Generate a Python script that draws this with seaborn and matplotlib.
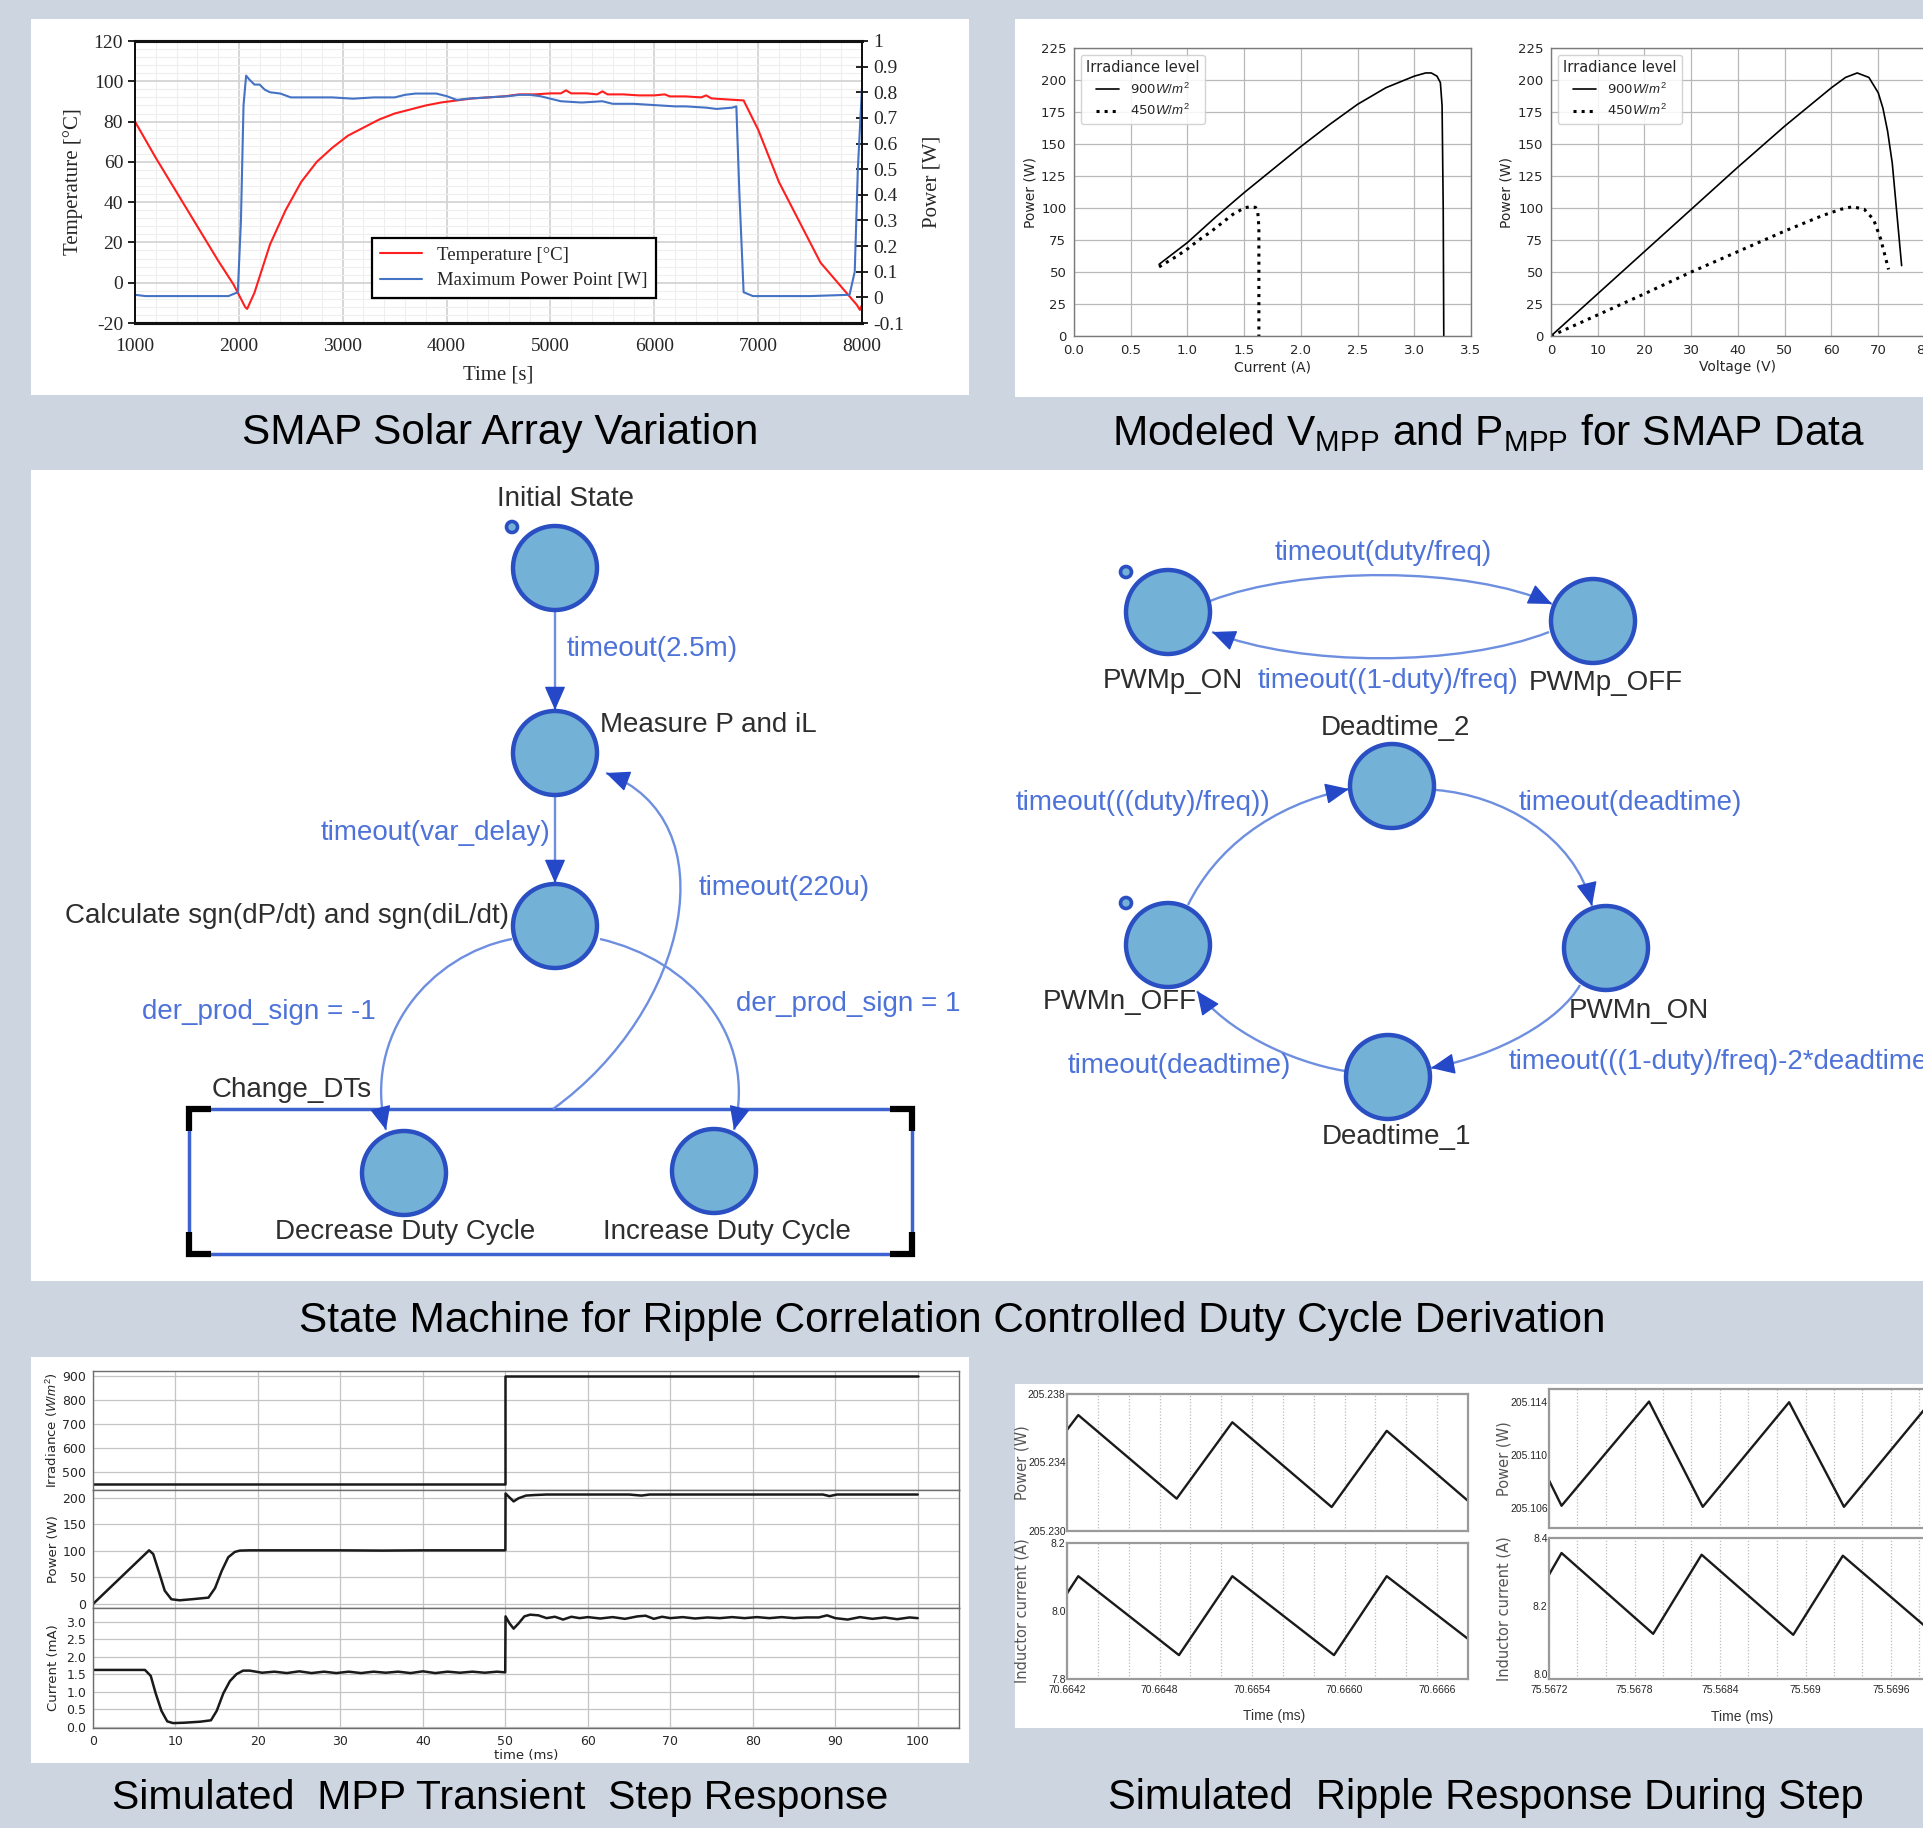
import numpy as np
import matplotlib.pyplot as plt
import seaborn as sns
from matplotlib.patches import Rectangle, Circle, PathPatch, FancyArrowPatch
from matplotlib.path import Path
from matplotlib.ticker import MultipleLocator, FuncFormatter

# ---------------- data ----------------
# SMAP solar array variation
temp_time = [1000, 1200, 1400, 1600, 1800, 1950, 2060, 2080, 2150, 2300,
             2450, 2600, 2750, 2900, 3050, 3200, 3350, 3500, 3650, 3800,
             3950, 4100, 4250, 4400, 4550, 4700, 4850, 5000, 5100, 5150,
             5200, 5350, 5450, 5500, 5550, 5700, 5850, 6000, 6100, 6150,
             6300, 6450, 6500, 6550, 6700, 6860, 7000, 7200, 7400, 7600,
             7800, 7950, 7980, 8000]
temp_c = [80, 62, 45, 28, 11, -1, -12, -13, -5, 19,
          36, 50, 60, 67, 73, 77, 81, 84, 86, 88,
          89.5, 90.5, 91.5, 92, 92.5, 93.5, 93.5, 94, 94, 95.5,
          94, 94, 93.5, 95, 93.5, 93.5, 93, 93, 93.5, 92.5,
          92.5, 92, 93, 91.5, 91, 90.5, 76, 50, 30, 10,
          -2, -11, -13.5, -11]
mpp_time = [1000, 1100, 1500, 1900, 1990, 2020, 2045, 2070, 2100, 2150,
            2200, 2250, 2300, 2400, 2500, 2700, 2900, 3100, 3300, 3500,
            3600, 3700, 3900, 4000, 4100, 4200, 4400, 4600, 4700, 4800,
            4900, 5000, 5100, 5300, 5500, 5600, 5800, 6000, 6200, 6300,
            6500, 6600, 6750, 6790, 6820, 6860, 6950, 7500, 7880, 7930,
            7960, 8000]
mpp_w = [0.01, 0.005, 0.005, 0.005, 0.02, 0.3, 0.75, 0.865, 0.85, 0.83,
         0.83, 0.81, 0.80, 0.795, 0.78, 0.78, 0.78, 0.775, 0.78, 0.78,
         0.79, 0.795, 0.795, 0.785, 0.77, 0.775, 0.78, 0.785, 0.79, 0.79,
         0.785, 0.775, 0.765, 0.76, 0.765, 0.755, 0.755, 0.75, 0.745, 0.745,
         0.74, 0.735, 0.74, 0.745, 0.4, 0.02, 0.005, 0.005, 0.01, 0.1,
         0.5, 0.82]

# modeled PV curves
i_900 = [0.75, 1.0, 1.25, 1.5, 1.75, 2.0, 2.25, 2.5, 2.75, 3.0, 3.1, 3.15, 3.2, 3.23, 3.245, 3.255, 3.26]
p_i_900 = [56, 73, 93, 112, 130, 148, 165, 181, 194, 203, 205.5, 205.5, 203, 198, 180, 100, 0]
i_450 = [0.75, 0.9, 1.0, 1.1, 1.2, 1.3, 1.4, 1.5, 1.55, 1.6, 1.62, 1.63, 1.63]
p_i_450 = [54, 62, 68, 75, 81, 88, 95, 100, 101, 100.5, 97, 85, 0]
v_900 = [0, 10, 20, 30, 40, 50, 60, 63, 65.5, 68, 70, 71, 72, 73, 74, 75]
p_v_900 = [0, 33, 66, 99, 132, 164, 194, 202, 205.5, 202, 190, 178, 160, 135, 95, 55]
v_450 = [0, 10, 20, 30, 40, 50, 58, 62, 64.5, 67, 69, 70.5, 71.5, 72.2]
p_v_450 = [0, 16.5, 33, 50, 66, 82, 94, 99, 101, 99, 91, 76, 62, 52]

# transient step response
irr_t = [0, 50, 50, 100]
irr_v = [450, 450, 900, 900]
pw_t = [0, 6.8, 7.3, 8.0, 8.7, 9.5, 10.5, 12, 14, 14.8, 15.6, 16.4, 17.2, 17.8, 19,
        25, 30, 35, 40, 45, 50, 50.02, 50.4, 51.0, 51.6, 52.5, 53.5, 55, 60, 65,
        66.5, 67.5, 70, 80, 88.5, 89.3, 90.2, 95, 100]
pw_v = [0, 101, 94, 60, 25, 9, 7, 9, 12, 30, 62, 88, 98, 100.5, 101,
        101, 101, 100.5, 101, 101, 101, 208, 202, 193, 199, 204, 205, 206, 206, 206,
        204, 206, 206, 206, 206, 203, 206, 206, 206]
cu_t = [0, 6.3, 7.0, 7.6, 8.3, 9.0, 9.7, 11, 13, 14.3,
        15.0, 15.8, 16.6, 17.4, 18.2, 19, 20.5, 22, 23.5, 25,
        26.5, 28, 29.5, 31, 32.5, 34, 35.5, 37, 38.5, 40,
        41.5, 43, 44.5, 46, 47.5, 49, 49.98, 50.02, 50.5, 51.0,
        51.6, 52.3, 53, 54, 55, 56, 57, 58, 59, 60,
        61.5, 63, 64.5, 66, 67, 68, 69, 70, 71.5, 73,
        74.5, 76, 77.5, 79, 80.5, 82, 83.5, 85, 86.5, 88,
        89, 90, 91.5, 93, 94.5, 96, 97.5, 99, 100]
cu_v = [1.62, 1.62, 1.45, 0.95, 0.45, 0.15, 0.10, 0.11, 0.14, 0.18,
        0.45, 0.95, 1.30, 1.50, 1.60, 1.60, 1.54, 1.57, 1.53, 1.58,
        1.53, 1.57, 1.53, 1.57, 1.53, 1.57, 1.54, 1.57, 1.53, 1.58,
        1.53, 1.57, 1.54, 1.57, 1.54, 1.57, 1.55, 3.15, 2.95, 2.80,
        2.95, 3.15, 3.20, 3.18, 3.10, 3.14, 3.06, 3.14, 3.10, 3.13,
        3.09, 3.13, 3.08, 3.15, 3.17, 3.08, 3.14, 3.10, 3.13, 3.09,
        3.12, 3.10, 3.13, 3.10, 3.13, 3.10, 3.13, 3.10, 3.12, 3.12,
        3.18, 3.10, 3.06, 3.13, 3.08, 3.12, 3.07, 3.12, 3.10]

# ripple during step
rl_t = [70.6642, 70.664273, 70.664911, 70.665272, 70.665916, 70.666273, 70.6668]
rl_p = [205.2359, 205.23677, 205.23189, 205.23635, 205.2314, 205.23585, 205.23176]
rl_it = [70.6642, 70.664273, 70.664926, 70.665272, 70.665931, 70.666273, 70.6668]
rl_i = [8.0517, 8.1024, 7.8702, 8.1024, 7.8702, 8.1024, 7.918]
rr_t = [75.5672, 75.567288, 75.567902, 75.568279, 75.568885, 75.56927, 75.569876, 75.5700]
rr_p = [205.1081, 205.10618, 205.11405, 205.1061, 205.114, 205.1061, 205.1140, 205.1125]
rr_it = [75.5672, 75.567288, 75.567931, 75.568271, 75.568914, 75.569262, 75.56991, 75.5700]
rr_i = [8.2916, 8.3557, 8.1172, 8.3507, 8.1143, 8.3478, 8.114, 8.13]

rl_ticks = [70.6642, 70.6648, 70.6654, 70.6660, 70.6666]
rl_ticklabels = ['70.6642', '70.6648', '70.6654', '70.6660', '70.6666']
rr_ticks = [75.5672, 75.5678, 75.5684, 75.5690, 75.5696]
rr_ticklabels = ['75.5672', '75.5678', '75.5684', '75.569', '75.5696']

# ---------------- style ----------------
W, H = 1924, 1828
BG = '#cdd5e0'
SANS = 'Liberation Sans'
SERIF = 'Liberation Serif'

sns.set_theme(style='white')
plt.rcParams['font.family'] = ['DejaVu Sans']
plt.rcParams['axes.unicode_minus'] = False
plt.rcParams['mathtext.fontset'] = 'custom'
plt.rcParams['mathtext.rm'] = 'Liberation Sans'
plt.rcParams['mathtext.it'] = 'Liberation Sans:italic'
plt.rcParams['mathtext.bf'] = 'Liberation Sans:bold'

fig = plt.figure(figsize=(W / 100, H / 100), dpi=100, facecolor=BG)


def rect(x0, y0, x1, y1):
    return [x0 / W, 1 - y1 / H, (x1 - x0) / W, (y1 - y0) / H]


def panel(x0, y0, x1, y1):
    fig.add_artist(Rectangle((x0 / W, 1 - y1 / H), (x1 - x0) / W, (y1 - y0) / H,
                             transform=fig.transFigure, facecolor='white',
                             edgecolor='none', zorder=-5))


def title(x, y, s, size=30.5):
    fig.text(x / W, 1 - y / H, s, ha='center', va='center', fontsize=size,
             family=SANS, color='black')


def tick_font(ax, family, size):
    for lab in ax.get_xticklabels() + ax.get_yticklabels():
        lab.set_fontfamily(family)
        lab.set_fontsize(size)


panel(31, 19, 969, 395)
panel(1015, 19, 1924, 397)
panel(31, 470, 1924, 1281)
panel(31, 1357, 969, 1763)
panel(1015, 1384, 1924, 1728)

title(500, 433, 'SMAP Solar Array Variation')
title(1489, 433, r'Modeled V$_\mathregular{MPP}$ and P$_\mathregular{MPP}$ for SMAP Data')
title(952, 1321, 'State Machine for Ripple Correlation Controlled Duty Cycle Derivation', 30.5)
title(500, 1798, 'Simulated  MPP Transient  Step Response', 29.5)
title(1486, 1798, 'Simulated  Ripple Response During Step', 30)

# ---------------- SMAP temperature / power ----------------
ax1 = fig.add_axes(rect(135, 41, 862, 323))
ax1.set_facecolor('white')
sns.lineplot(x=temp_time, y=temp_c, ax=ax1, color='#ff1f1f', lw=1.5,
             sort=False, estimator=None)
ax1.set_xlim(1000, 8000)
ax1.set_ylim(-20, 120)
ax1.xaxis.set_major_locator(MultipleLocator(1000))
ax1.xaxis.set_minor_locator(MultipleLocator(200))
ax1.yaxis.set_major_locator(MultipleLocator(20))
ax1.yaxis.set_minor_locator(MultipleLocator(4))
ax1.grid(which='major', color='#d4d4d4', lw=1.3)
ax1.grid(which='minor', color='#eeeeee', lw=0.8)
ax1.set_axisbelow(True)
ax1b = ax1.twinx()
sns.lineplot(x=mpp_time, y=mpp_w, ax=ax1b, color='#4472c4', lw=1.5,
             sort=False, estimator=None)
ax1b.set_ylim(-0.1, 1)
ax1b.yaxis.set_major_locator(MultipleLocator(0.1))
ax1b.yaxis.set_major_formatter(FuncFormatter(lambda v, p: f'{round(v, 2) + 0:g}'))
for a in (ax1, ax1b):
    for side in ('top', 'bottom'):
        a.spines[side].set_linewidth(2.2)
        a.spines[side].set_color('#111111')
    for side in ('left', 'right'):
        a.spines[side].set_linewidth(1.4)
        a.spines[side].set_color('#111111')
ax1.tick_params(axis='x', length=0, pad=11)
ax1.tick_params(axis='y', which='major', direction='out', length=5, width=1.3, color='#111111')
ax1.tick_params(axis='y', which='minor', length=0)
ax1b.tick_params(axis='y', direction='inout', length=8, width=1.3, color='#111111', pad=4)
ax1.set_xlabel('Time [s]', family=SERIF, fontsize=15)
ax1.set_ylabel('Temperature [°C]', family=SERIF, fontsize=15)
ax1b.set_ylabel('Power [W]', family=SERIF, fontsize=15)
ax1.xaxis.set_label_coords(0.5, -0.15)
ax1.yaxis.set_label_coords(-0.072, 0.5)
ax1b.yaxis.set_label_coords(1.083, 0.5)
tick_font(ax1, SERIF, 14)
tick_font(ax1b, SERIF, 14)
leg = ax1b.legend([ax1.lines[0], ax1b.lines[0]],
                  ['Temperature [°C]', 'Maximum Power Point [W]'],
                  loc='upper left', bbox_to_anchor=(0.326, 0.301), borderaxespad=0,
                  frameon=True, fancybox=False, framealpha=1, edgecolor='black',
                  prop=dict(family=SERIF, size=13.5), handlelength=2.2,
                  borderpad=0.45, labelspacing=0.45)
leg.get_frame().set_linewidth(1.6)

# ---------------- PV curves ----------------
pv_axes = [fig.add_axes(rect(1074, 48, 1471, 336)), fig.add_axes(rect(1551, 48, 1925, 336))]
pv_data = [(i_900, p_i_900, i_450, p_i_450, 'Current (A)', (0, 3.5), 0.5),
           (v_900, p_v_900, v_450, p_v_450, 'Voltage (V)', (0, 80), 10)]
for ax, (x9, y9, x4, y4, xl, lim, step) in zip(pv_axes, pv_data):
    sns.lineplot(x=x9, y=y9, ax=ax, color='black', lw=1.2, sort=False,
                 estimator=None, label='900$W/m^2$')
    sns.lineplot(x=x4, y=y4, ax=ax, color='black', lw=2.2, ls=':', sort=False,
                 estimator=None, label='450$W/m^2$')
    ax.set_xlim(*lim)
    ax.set_ylim(0, 225)
    ax.xaxis.set_major_locator(MultipleLocator(step))
    ax.yaxis.set_major_locator(MultipleLocator(25))
    if step == 0.5:
        ax.xaxis.set_major_formatter(FuncFormatter(lambda v, p: f'{v:.1f}'))
    ax.grid(True, color='#b8b8b8', lw=0.9)
    ax.set_axisbelow(True)
    for s in ax.spines.values():
        s.set_color('#7a7a7a')
        s.set_linewidth(1.0)
    ax.tick_params(direction='out', length=3.5, width=0.8, color='#555555', pad=2)
    ax.set_xlabel(xl, fontsize=10)
    ax.set_ylabel('Power (W)', fontsize=10)
    ax.xaxis.set_label_coords(0.5, -0.084)
    tick_font(ax, 'DejaVu Sans', 9.5)
    ax.legend(title='Irradiance level', loc='upper left', fontsize=9.5,
              title_fontsize=10.5, frameon=True, framealpha=0.85,
              edgecolor='#cccccc', handlelength=1.8)
pv_axes[0].yaxis.set_label_coords(-0.093, 0.5)
pv_axes[1].yaxis.set_label_coords(-0.099, 0.5)

# ---------------- state machine diagram ----------------
ad = fig.add_axes(rect(31, 470, 1924, 1281))
ad.set_xlim(31, 1924)
ad.set_ylim(1281, 470)
ad.axis('off')

FILL = '#74b1d6'
EDGE = '#2a4fc2'
LINE = '#6e8fe0'
HEAD = '#2448c8'
LBL = '#4d72d8'
TXT = '#2e2e2e'
R = 42
nodes = {'init': (555, 568), 'measure': (555, 753), 'calc': (555, 926),
         'dec': (404, 1173), 'inc': (714, 1171), 'pon': (1168, 612),
         'poff': (1593, 621), 'dt2': (1392, 786), 'non': (1606, 948),
         'dt1': (1388, 1077), 'noff': (1168, 945)}
starts = [(512, 527), (1126, 572), (1126, 903)]

# Change_DTs box with corner brackets
ad.add_patch(Rectangle((189, 1109), 723, 145, fill=False, edgecolor='#3d63d0', lw=2.5))
arm = 22
for cx, cy, sx, sy in [(189, 1109, 1, 1), (912, 1109, -1, 1), (189, 1254, 1, -1), (912, 1254, -1, -1)]:
    ad.plot([cx + sx * arm, cx, cx], [cy, cy, cy + sy * arm], color='black', lw=4.5,
            solid_capstyle='butt', solid_joinstyle='miter')

for (x, y) in nodes.values():
    ad.add_patch(Circle((x, y), R, facecolor=FILL, edgecolor=EDGE, lw=3.2, zorder=3))
for (x, y) in starts:
    ad.add_patch(Circle((x, y), 5.5, facecolor=FILL, edgecolor=EDGE, lw=2.6, zorder=3))


def transition(p0, p1, p2, p3):
    pts = np.array([p0, p1, p2, p3], dtype=float)
    path = Path(pts, [Path.MOVETO, Path.CURVE4, Path.CURVE4, Path.CURVE4])
    ad.add_patch(PathPatch(path, fill=False, edgecolor=LINE, lw=1.7, zorder=2))
    d = pts[3] - pts[2]
    d = d / np.hypot(*d)
    ad.add_patch(FancyArrowPatch(tuple(pts[3] - 3 * d), tuple(pts[3]),
                                 arrowstyle='-|>,head_length=0.5,head_width=0.22',
                                 mutation_scale=30, color=HEAD, lw=1,
                                 shrinkA=0, shrinkB=0, zorder=4))


transition((555, 611), (555, 640), (555, 680), (555, 710))
transition((555, 796), (555, 825), (555, 855), (555, 883))
transition((512, 939), (430, 955), (362, 1035), (386, 1130))
transition((600, 939), (690, 960), (758, 1035), (734, 1130))
transition((553, 1109), (690, 1010), (730, 820), (606, 773))
transition((1210, 601), (1300, 566), (1470, 566), (1552, 604))
transition((1549, 632), (1460, 667), (1300, 667), (1212, 632))
transition((1188, 905), (1215, 850), (1270, 805), (1349, 789))
transition((1436, 790), (1500, 795), (1575, 835), (1592, 906))
transition((1580, 985), (1560, 1020), (1500, 1055), (1431, 1068))
transition((1345, 1071), (1290, 1062), (1225, 1030), (1197, 991))

FS = 20
state_labels = [('Initial State', 566, 499, 'center'),
                ('Measure P and iL', 600, 725, 'left'),
                ('Calculate sgn(dP/dt) and sgn(diL/dt)', 509, 916, 'right'),
                ('Change_DTs', 212, 1090, 'left'),
                ('Decrease Duty Cycle', 405, 1232, 'center'),
                ('Increase Duty Cycle', 727, 1232, 'center'),
                ('PWMp_ON', 1173, 681, 'center'),
                ('PWMp_OFF', 1606, 683, 'center'),
                ('Deadtime_2', 1395, 728, 'center'),
                ('PWMn_ON', 1639, 1011, 'center'),
                ('Deadtime_1', 1397, 1137, 'center'),
                ('PWMn_OFF', 1120, 1002, 'center')]
for s, x, y, ha in state_labels:
    ad.text(x, y, s, ha=ha, va='center', fontsize=FS, family=SANS, color=TXT, zorder=5)

trans_labels = [('timeout(2.5m)', 567, 649, 'left'),
                ('timeout(var_delay)', 550, 833, 'right'),
                ('der_prod_sign = -1', 376, 1012, 'right'),
                ('der_prod_sign = 1', 736, 1004, 'left'),
                ('timeout(220u)', 699, 888, 'left'),
                ('timeout(duty/freq)', 1383, 553, 'center'),
                ('timeout((1-duty)/freq)', 1388, 681, 'center'),
                ('timeout(((duty)/freq))', 1143, 803, 'center'),
                ('timeout(deadtime)', 1630, 803, 'center'),
                ('timeout(((1-duty)/freq)-2*deadtime)', 1509, 1062, 'left'),
                ('timeout(deadtime)', 1179, 1066, 'center')]
for s, x, y, ha in trans_labels:
    ad.text(x, y, s, ha=ha, va='center', fontsize=FS, family=SANS, color=LBL,
            zorder=5, clip_on=False)

# ---------------- transient step response ----------------
tr_axes = [fig.add_axes(rect(93, 1371, 959, 1490)),
           fig.add_axes(rect(93, 1490, 959, 1608)),
           fig.add_axes(rect(93, 1608, 959, 1728))]
tr_data = [(irr_t, irr_v, 'Irradiance ($W/m^2$)', (427, 922), 100, (500, 900)),
           (pw_t, pw_v, 'Power (W)', (-7.5, 214.5), 50, (0, 200)),
           (cu_t, cu_v, 'Current (mA)', (-0.04, 3.39), 0.5, (0, 3.0))]
for ax, (tx, ty, yl, ylim, step, rng) in zip(tr_axes, tr_data):
    sns.lineplot(x=tx, y=ty, ax=ax, color='#1a1a1a', lw=1.8, sort=False, estimator=None)
    ax.set_xlim(0, 105)
    ax.set_ylim(*ylim)
    ax.set_xticks(np.arange(0, 101, 10))
    ax.set_yticks(np.arange(rng[0], rng[1] + step / 2, step))
    if step == 0.5:
        ax.yaxis.set_major_formatter(FuncFormatter(lambda v, p: f'{v:.1f}'))
    ax.grid(True, color='#c4c4c4', lw=0.9)
    ax.set_axisbelow(True)
    for s in ax.spines.values():
        s.set_color('#6e6e6e')
        s.set_linewidth(1.0)
    ax.tick_params(direction='out', length=3, width=0.8, color='#555555', pad=2)
    ax.set_ylabel(yl, fontsize=9.5)
    ax.yaxis.set_label_coords(-0.038, 0.5)
    if ax is not tr_axes[-1]:
        ax.tick_params(axis='x', labelbottom=False, length=0)
    tick_font(ax, 'DejaVu Sans', 9)
tr_axes[-1].set_xlabel('time (ms)', fontsize=9.5, labelpad=1)

# ---------------- ripple response ----------------
rp_axes = [fig.add_axes(rect(1067, 1394, 1468, 1531)),
           fig.add_axes(rect(1067, 1543, 1468, 1679)),
           fig.add_axes(rect(1549, 1389, 1948, 1528)),
           fig.add_axes(rect(1549, 1538, 1948, 1679))]
rp_data = [(rl_t, rl_p, 'Power (W)', (70.6642, 70.6668), (205.230, 205.238),
            [205.238, 205.234, 205.230], ['205.238', '205.234', '205.230'], rl_ticks, rl_ticklabels),
           (rl_it, rl_i, 'Inductor current (A)', (70.6642, 70.6668), (7.8, 8.2),
            [8.2, 8.0, 7.8], ['8.2', '8.0', '7.8'], rl_ticks, rl_ticklabels),
           (rr_t, rr_p, 'Power (W)', (75.5672, 75.5700), (205.1045, 205.115),
            [205.114, 205.110, 205.106], ['205.114', '205.110', '205.106'], rr_ticks, rr_ticklabels),
           (rr_it, rr_i, 'Inductor current (A)', (75.5672, 75.5700), (7.984, 8.4),
            [8.4, 8.2, 8.0], ['8.4', '8.2', '8.0'], rr_ticks, rr_ticklabels)]
for k, (ax, (tx, ty, yl, xlim, ylim, yt, ytl, xt, xtl)) in enumerate(zip(rp_axes, rp_data)):
    sns.lineplot(x=tx, y=ty, ax=ax, color='#1a1a1a', lw=1.7, sort=False, estimator=None)
    ax.set_xlim(*xlim)
    ax.set_ylim(*ylim)
    ax.set_yticks(yt, ytl)
    ax.set_xticks(xt, xtl)
    ax.xaxis.set_minor_locator(MultipleLocator(0.0002))
    ax.grid(True, which='both', axis='x', color='#bdbdbd', lw=0.9, ls=(0, (1, 1.5)))
    ax.set_axisbelow(True)
    for s in ax.spines.values():
        s.set_color('#9a9a9a')
        s.set_linewidth(1.6)
    ax.tick_params(which='both', length=0, pad=1)
    ax.tick_params(axis='x', pad=4)
    ax.set_ylabel(yl, fontsize=10.5, color='#555555')
    ax.yaxis.set_label_coords(-0.094, 0.5)
    if k in (0, 2):
        ax.tick_params(axis='x', labelbottom=False)
    else:
        ax.set_xlabel('Time (ms)', fontsize=10, family=SANS, color='#333333')
        ax.xaxis.set_label_coords(0.516 if k == 1 else 0.484, -0.22)
    tick_font(ax, SANS, 7.5)

fig.savefig('out.png', dpi=100, facecolor=BG)
